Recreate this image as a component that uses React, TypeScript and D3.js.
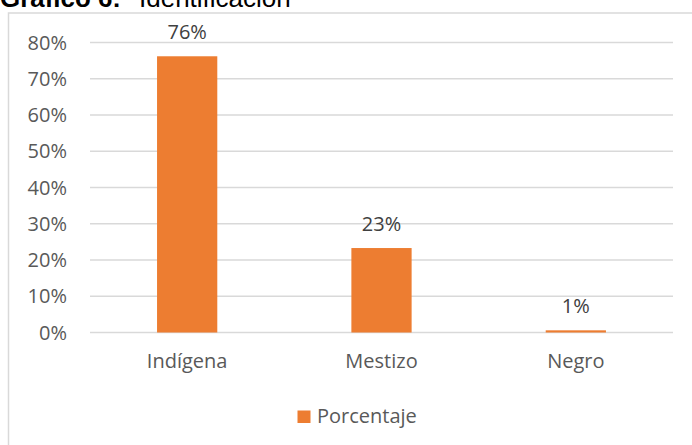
import React from "react";
import * as d3 from "d3";

const categories = ["Indígena", "Mestizo", "Negro"];
const values = [0.762, 0.233, 0.006];
const valueLabels = ["76%", "23%", "1%"];
const yTicks = [0, 0.1, 0.2, 0.3, 0.4, 0.5, 0.6, 0.7, 0.8];
const seriesName = "Porcentaje";

export default function App() {
  const W = 692;
  const H = 445;
  const x = d3.scaleBand<string>().domain(categories).range([90, 673]).paddingInner(0.69).paddingOuter(0.345);
  const y = d3.scaleLinear().domain([0, 0.8]).range([332.5, 42.5]);
  const fmt = d3.format(".0%");
  const font = "'Open Sans', sans-serif";
  const color = "#ED7D31";
  const titleFont = "'Liberation Sans', Arial, sans-serif";
  return (
    <div style={{ position: "absolute", left: 0, top: 0 }}>
      <svg width={W} height={H} style={{ display: "block", background: "#fff" }}>
        <rect x={8.5} y={13} width={W + 20} height={H + 20} fill="#fff" stroke="#d9d9d9" strokeWidth={1.5} />
        <text x={0} y={7} fontFamily={titleFont} fontSize={26} fontWeight="bold" fill="#000" textLength={121} lengthAdjust="spacingAndGlyphs">
          Gráfico 6:
        </text>
        <text x={139} y={7} fontFamily={titleFont} fontSize={26} fill="#000">
          Identificación
        </text>
        {yTicks.map((t) => (
          <g key={t}>
            <line x1={90} x2={673} y1={y(t)} y2={y(t)} stroke="#d9d9d9" strokeWidth={1.3} />
            <text x={67} y={y(t) + 7} textAnchor="end" fontFamily={font} fontSize={20} fill="#595959">
              {fmt(t)}
            </text>
          </g>
        ))}
        {categories.map((c, i) => {
          const bx = x(c)!;
          const bw = x.bandwidth();
          return (
            <g key={c}>
              <rect x={bx} y={y(values[i])} width={bw} height={y(0) - y(values[i])} fill={color} />
              <text x={bx + bw / 2} y={y(values[i]) - 17} textAnchor="middle" fontFamily={font} fontSize={20} fill="#404040">
                {valueLabels[i]}
              </text>
              <text x={bx + bw / 2} y={368} textAnchor="middle" fontFamily={font} fontSize={20} fill="#595959">
                {c}
              </text>
            </g>
          );
        })}
        <rect x={297.5} y={410.5} width={13} height={12.5} fill={color} />
        <text x={317} y={422.5} fontFamily={font} fontSize={20} fill="#595959">
          {seriesName}
        </text>
      </svg>
    </div>
  );
}
